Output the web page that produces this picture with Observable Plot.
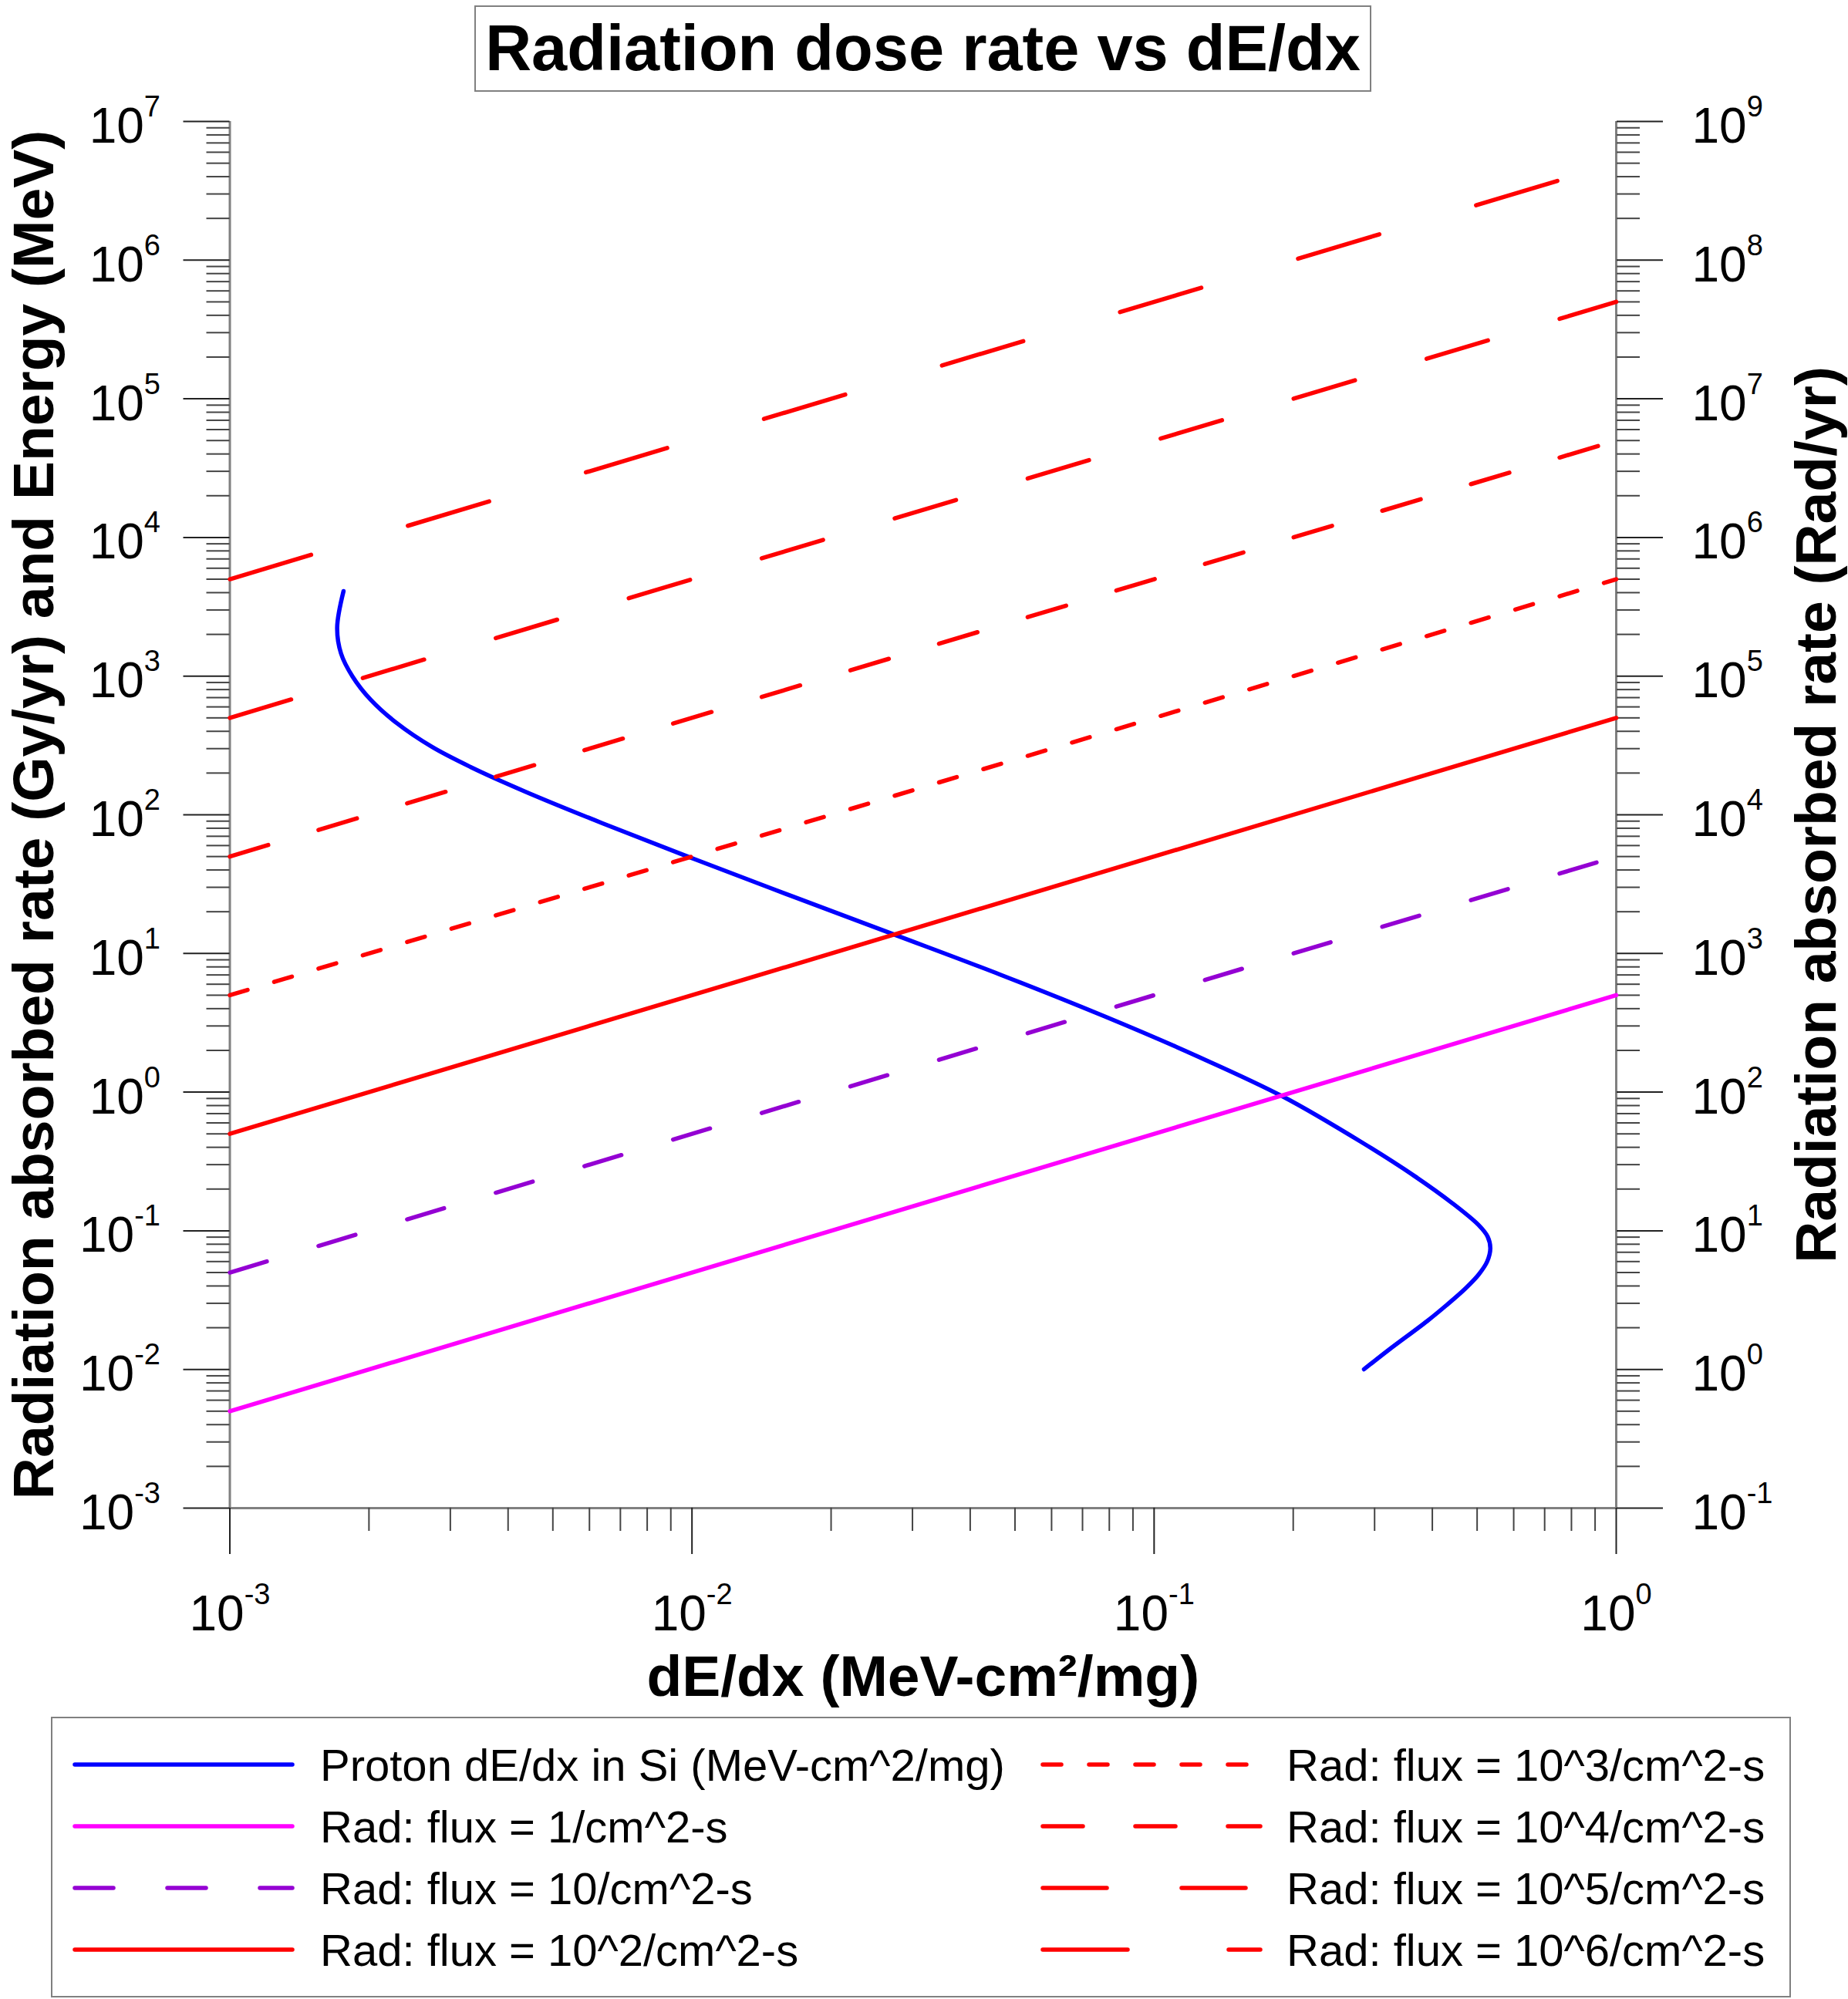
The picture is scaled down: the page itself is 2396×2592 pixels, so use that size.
<!DOCTYPE html>
<html><head><meta charset="utf-8">
<script src="https://cdn.jsdelivr.net/npm/d3@7"></script>
<script src="https://cdn.jsdelivr.net/npm/@observablehq/plot@0.6"></script>
<style>
html,body{margin:0;padding:0;background:#fff;overflow:hidden;}
#wrap{position:relative;width:2396px;height:2592px;font-family:"Liberation Sans",Arial,sans-serif;background:#fff;}
#chart{position:absolute;left:0;top:0;}
#title{position:absolute;left:615px;top:7px;width:1159px;height:108px;border:2px solid #808080;text-align:center;font-weight:bold;font-size:83px;line-height:108px;color:#000;white-space:nowrap;}
#legend{position:absolute;left:66px;top:2226px;width:2252px;height:360px;border:2px solid #808080;}
#legend svg{position:absolute;left:0;top:0;}
</style></head>
<body><div id="wrap"><div id="chart"></div><div id="title">Radiation dose rate vs dE/dx</div><div id="legend"></div></div>
<script>
// ---- data ----
const dedxEnds = [0.001, 1];            // dE/dx end points of the straight dose-rate lines
const flux1   = [0.005, 5];
const flux10  = [0.05, 50];
const flux1e2 = [0.5, 500];
const flux1e3 = [5, 5000];
const flux1e4 = [50, 50000];
const flux1e5 = [500, 500000];
const flux1e6 = [5000, 5000000];

const protonDedx = [0.001762, 0.001707, 0.001740, 0.001843, 0.002016, 0.002292, 0.002742, 0.003323, 0.004347, 0.006385, 0.01013, 0.01669, 0.02777, 0.04644, 0.07771, 0.1231, 0.1902, 0.2829, 0.3654, 0.4429, 0.5036, 0.5269, 0.5340, 0.5259, 0.5041, 0.4722, 0.4290, 0.3898, 0.3216, 0.2846];
const protonEnergy = [4101, 2237, 1459, 993.6, 676.9, 460.9, 307.8, 220.7, 147.4, 87.19, 47.88, 25.43, 13.46, 7.041, 3.544, 1.835, 0.9273, 0.4300, 0.2491, 0.1572, 0.1100, 0.09073, 0.07484, 0.06021, 0.04844, 0.03847, 0.02902, 0.02233, 0.01381, 0.01003];

const yMajor = [1e-3, 1e-2, 1e-1, 1, 1e1, 1e2, 1e3, 1e4, 1e5, 1e6, 1e7];
const xMajor = [1e-3, 1e-2, 1e-1, 1];
const minorMultipliers = [2, 3, 4, 5, 6, 7, 8, 9];
const yMinor = yMajor.slice(0, -1).flatMap(p => minorMultipliers.map(m => m * p));
const xMinor = xMajor.slice(0, -1).flatMap(p => minorMultipliers.map(m => m * p));

const legendLabels = ["Proton dE/dx in Si (MeV-cm^2/mg)", "Rad: flux = 1/cm^2-s", "Rad: flux = 10/cm^2-s", "Rad: flux = 10^2/cm^2-s",
  "Rad: flux = 10^3/cm^2-s", "Rad: flux = 10^4/cm^2-s", "Rad: flux = 10^5/cm^2-s", "Rad: flux = 10^6/cm^2-s"];

// ---- styles ----
const SW = 5.5;
const radSeries = [
  {values: flux1,   color: "#ff00ff", dash: null},
  {values: flux10,  color: "#9400d3", dash: "50,70"},
  {values: flux1e2, color: "#ff0000", dash: null},
  {values: flux1e3, color: "#ff0000", dash: "24,36"},
  {values: flux1e4, color: "#ff0000", dash: "52,68"},
  {values: flux1e5, color: "#ff0000", dash: "83,97"},
  {values: flux1e6, color: "#ff0000", dash: "110,131"}
];
const legendStyles = [{color: "#0000ff", dash: null}].concat(radSeries.map(s => ({color: s.color, dash: s.dash})));

const protonData = protonDedx.map((x, i) => ({x, y: protonEnergy[i]}));
const expo = d => Math.round(Math.log10(d));

const marks = [
  Plot.ruleX([1e-3, 1], {stroke: "#808080", strokeWidth: 3}),
  Plot.ruleY([1e-3], {stroke: "#808080", strokeWidth: 3}),
  // minor ticks
  Plot.axisY(yMinor, {anchor: "left", tickSize: 30, fill: "none", stroke: "#444", strokeWidth: 2, label: null}),
  Plot.axisY(yMinor, {anchor: "right", tickSize: 30, fill: "none", stroke: "#444", strokeWidth: 2, label: null}),
  Plot.axisX(xMinor, {anchor: "bottom", tickSize: 30, fill: "none", stroke: "#444", strokeWidth: 2, label: null}),
  // major ticks
  Plot.axisY(yMajor, {anchor: "left", tickSize: 60, fill: "none", stroke: "#222", strokeWidth: 2, label: null}),
  Plot.axisY(yMajor, {anchor: "right", tickSize: 60, fill: "none", stroke: "#222", strokeWidth: 2, label: null}),
  Plot.axisX(xMajor, {anchor: "bottom", tickSize: 60, fill: "none", stroke: "#222", strokeWidth: 2, label: null}),
  // tick labels
  Plot.axisY(yMajor, {anchor: "left", tickSize: 0, tickPadding: 90, dy: 7, fill: "black", tickFormat: d => "10^" + expo(d), label: null}),
  Plot.axisY(yMajor, {anchor: "right", tickSize: 0, tickPadding: 98, dy: 7, fill: "black", tickFormat: d => "10^" + (expo(d) + 2), label: null}),
  Plot.axisX(xMajor, {anchor: "bottom", tickSize: 0, tickPadding: 113, fill: "black", tickFormat: d => "10^" + expo(d), label: null}),
  // axis titles
  Plot.text(["Radiation absorbed rate (Gy/yr) and Energy (MeV)"], {text: d => d, frameAnchor: "left", rotate: -90, dx: -229.5, textAnchor: "middle", lineAnchor: "bottom", fontSize: 75, fontWeight: "bold", fill: "black"}),
  Plot.text(["Radiation absorbed rate (Rad/yr)"], {text: d => d, frameAnchor: "right", rotate: -90, dx: 284, textAnchor: "middle", lineAnchor: "bottom", fontSize: 75, fontWeight: "bold", fill: "black"}),
  Plot.text(["dE/dx (MeV-cm\u00b2/mg)"], {text: d => d, frameAnchor: "bottom", dy: 243, textAnchor: "middle", lineAnchor: "bottom", fontSize: 75, fontWeight: "bold", fill: "black"}),
  // data
  Plot.line(protonData, {x: "x", y: "y", stroke: "#0000ff", strokeWidth: SW, strokeLinecap: "round", strokeLinejoin: "round", curve: "catmull-rom"}),
  ...radSeries.map(s => Plot.line(dedxEnds.map((x, i) => ({x, y: s.values[i]})), {x: "x", y: "y", stroke: s.color, strokeWidth: SW, strokeLinecap: "round", strokeDasharray: s.dash == null ? undefined : s.dash}))
];

const svg = Plot.plot({
  width: 2396, height: 2222,
  marginLeft: 297.5, marginRight: 301, marginTop: 157, marginBottom: 267,
  x: {type: "log", domain: [1e-3, 1], axis: null},
  y: {type: "log", domain: [1e-3, 1e7], axis: null},
  style: {fontFamily: '"Liberation Sans", Arial, sans-serif', fontSize: "64px", color: "black", background: "transparent", overflow: "visible", maxWidth: "none"},
  marks
});
document.getElementById("chart").appendChild(svg);

// superscript exponents in tick labels
d3.select(svg).selectAll("text").each(function () {
  const m = /^10\^(-?\d+)$/.exec(this.textContent);
  if (!m) return;
  const sel = d3.select(this);
  sel.text(null);
  sel.append("tspan").text("10");
  sel.append("tspan").attr("dy", -34).attr("font-size", 38).text(m[1]);
});

// legend
const lg = d3.select("#legend").append("svg").attr("width", 2252).attr("height", 360)
  .style("font-family", '"Liberation Sans", Arial, sans-serif');
const rowY = [60, 140, 220, 300];
legendLabels.forEach((label, i) => {
  const col = i < 4 ? 0 : 1, row = i % 4;
  const x0 = col === 0 ? 29 : 1284, x1 = col === 0 ? 311 : 1566, tx = col === 0 ? 347 : 1600;
  const st = legendStyles[i];
  const ln = lg.append("line").attr("x1", x0).attr("x2", x1).attr("y1", rowY[row]).attr("y2", rowY[row])
    .attr("stroke", st.color).attr("stroke-width", SW).attr("stroke-linecap", "round");
  if (st.dash) ln.attr("stroke-dasharray", st.dash);
  lg.append("text").attr("x", tx).attr("y", rowY[row] + 21).attr("font-size", 58).attr("fill", "black").text(label);
});
</script></body></html>
